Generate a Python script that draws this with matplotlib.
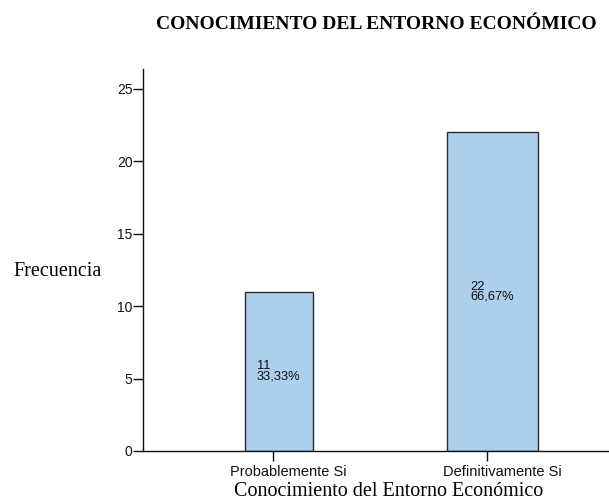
import matplotlib
matplotlib.use("Agg")
import matplotlib.pyplot as plt
import matplotlib.transforms as mtransforms

categories = ["Probablemente Si", "Definitivamente Si"]
counts = [11, 22]
percents = ["33,33%", "66,67%"]
bar_widths = [0.318, 0.425]
bar_offset = 0.026
yticks = [0, 5, 10, 15, 20, 25]

fig = plt.figure(figsize=(6.09, 5.0), dpi=100)
ax = fig.add_axes([143 / 609, 49 / 500, 1 - 143 / 609, (451 - 69) / 500])

xs = [i + bar_offset for i in range(len(categories))]
ax.bar(xs, counts, width=bar_widths, color="#abcfed", edgecolor="#2b2b2b",
       linewidth=1.0, zorder=2)

for x, c, p in zip(xs, counts, percents):
    ax.text(x, c / 2, f"{c}\n{p}", ha="center", va="center", multialignment="left",
            fontsize=9.3, family="Liberation Sans", linespacing=0.78, color="#111111")

ax.set_xlim(-0.6075, 1.570)
ax.set_ylim(0, 26.38)
ax.set_xticks(range(len(categories)))
ax.set_xticklabels(categories, family="Liberation Sans", fontsize=10.5)
ax.set_yticks(yticks)
ax.set_yticklabels([str(t) for t in yticks], family="Liberation Sans", fontsize=10)
ax.tick_params(axis="both", direction="out", length=7, width=1, pad=0.5, colors="#111111")
ax.tick_params(axis="x", pad=3)

# category labels sit slightly right of their tick marks
shift = mtransforms.ScaledTranslation(15 / 100, 0, fig.dpi_scale_trans)
for lbl in ax.get_xticklabels():
    lbl.set_transform(lbl.get_transform() + shift)

for side in ("top", "right"):
    ax.spines[side].set_visible(False)
for side in ("left", "bottom"):
    ax.spines[side].set_linewidth(1.0)
    ax.spines[side].set_color("#111111")

fig.text(58 / 609, 1 - 272 / 500, "Frecuencia", ha="center", va="center",
         family="Liberation Serif", fontsize=14.5)
fig.text(389 / 609, 1 - 491 / 500, "Conocimiento del Entorno Económico", ha="center",
         va="center", family="Liberation Serif", fontsize=14.5)
fig.text(376 / 609, 1 - 24.5 / 500, "CONOCIMIENTO DEL ENTORNO ECONÓMICO", ha="center",
         va="center", family="Liberation Serif", fontsize=14, fontweight="bold")

fig.savefig("out.png", dpi=100)
